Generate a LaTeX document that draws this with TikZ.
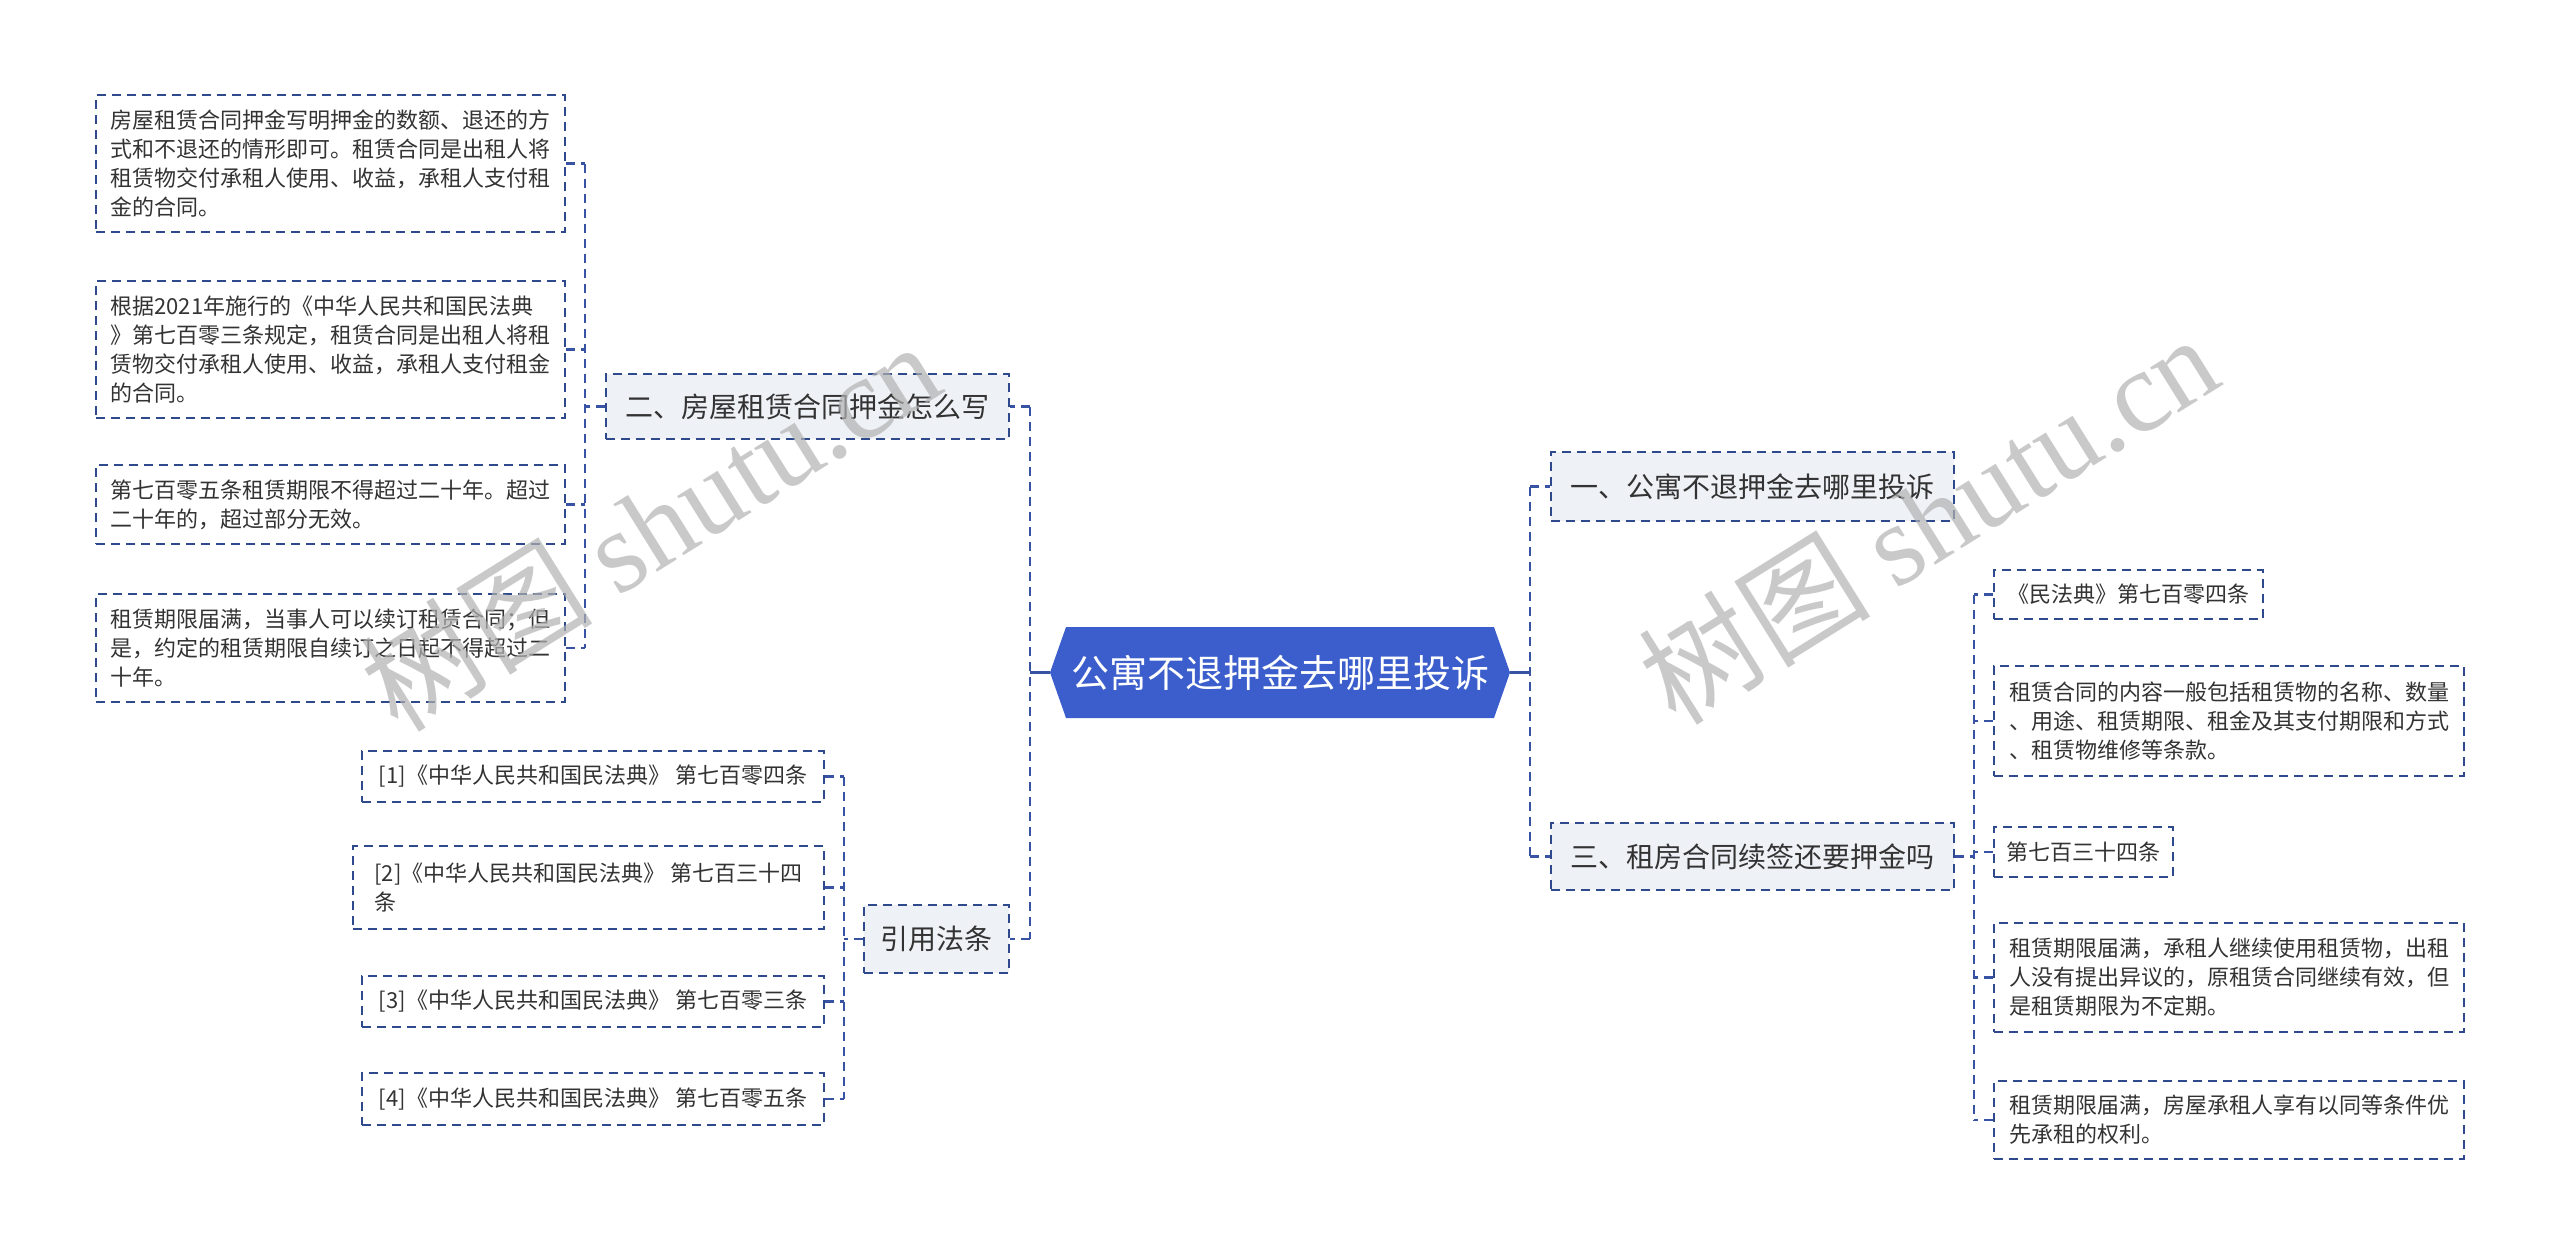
\documentclass[tikz,border=0pt]{standalone}
\usepackage{fontspec}
\setmainfont{Noto Sans CJK SC}
\newfontfamily\wmserif{Liberation Serif}
\usetikzlibrary{calc}
\definecolor{boxc}{HTML}{2F4A8C}
\definecolor{connc}{HTML}{3953A4}
\definecolor{lvlfill}{HTML}{EEF1F6}
\definecolor{hexc}{HTML}{3B5ECC}
\definecolor{txtc}{HTML}{333333}
\begin{document}
\begin{tikzpicture}[x=1pt,y=-1pt,
 leaf/.style={draw=boxc, line width=2pt, dash pattern=on 9pt off 6pt, fill=white, inner sep=0pt, align=left, font=\fontsize{22}{29}\selectfont, text=txtc},
 lvl/.style={draw=boxc, line width=2pt, dash pattern=on 9pt off 6pt, fill=lvlfill, inner sep=0pt, font=\fontsize{28}{34}\selectfont, text=txtc},
 conn/.style={draw=connc, line width=2.5pt, dash pattern=on 9pt off 6pt},
 stub/.style={draw=connc, line width=2.5pt},
 wm/.style={text=black!30, opacity=0.7, font=\fontsize{116}{120}\selectfont}
]
\useasboundingbox (0,0) rectangle (2560,1255);
% center
\fill[hexc] (1050,672.5) -- (1066,627) -- (1494,627) -- (1510,672.5) -- (1494,718) -- (1066,718) -- cycle;
\node[minimum width=460pt, minimum height=91pt, inner sep=0pt, text=white, font=\fontsize{38}{46}\selectfont] (c) at (1280,672.5) {公寓不退押金去哪里投诉};
% level 1
\node[lvl, minimum width=403pt, minimum height=65pt] (b2) at (807.5,406.5) {二、房屋租赁合同押金怎么写};
\node[lvl, minimum width=145pt, minimum height=68pt] (by) at (936.5,939) {引用法条};
\node[lvl, minimum width=403pt, minimum height=69pt] (b1) at (1752.5,486.5) {一、公寓不退押金去哪里投诉};
\node[lvl, minimum width=403pt, minimum height=67pt] (b3) at (1752.5,856.5) {三、租房合同续签还要押金吗};
% left leaves
\node[leaf, minimum width=469pt, minimum height=137pt] (l1) at (330.5,163.5) {房屋租赁合同押金写明押金的数额、退还的方\\式和不退还的情形即可。租赁合同是出租人将\\租赁物交付承租人使用、收益，承租人支付租\\金的合同。};
\node[leaf, minimum width=469pt, minimum height=137pt] (l2) at (330.5,349.5) {根据2021年施行的《中华人民共和国民法典\\》第七百零三条规定，租赁合同是出租人将租\\赁物交付承租人使用、收益，承租人支付租金\\的合同。};
\node[leaf, minimum width=469pt, minimum height=79pt] (l3) at (330.5,504.5) {第七百零五条租赁期限不得超过二十年。超过\\二十年的，超过部分无效。};
\node[leaf, minimum width=469pt, minimum height=108pt] (l4) at (330.5,648) {租赁期限届满，当事人可以续订租赁合同；但\\是，约定的租赁期限自续订之日起不得超过二\\十年。};
% citations
\node[leaf, minimum width=462pt, minimum height=51pt] (k1) at (593,776.5) {[1]《中华人民共和国民法典》 第七百零四条};
\node[leaf, minimum width=471pt, minimum height=83pt] (k2) at (588.5,887.5) {[2]《中华人民共和国民法典》 第七百三十四\\条};
\node[leaf, minimum width=462pt, minimum height=51pt] (k3) at (593,1001.5) {[3]《中华人民共和国民法典》 第七百零三条};
\node[leaf, minimum width=462pt, minimum height=52pt] (k4) at (593,1099) {[4]《中华人民共和国民法典》 第七百零五条};
% right leaves
\node[leaf, minimum width=269pt, minimum height=49pt] (r1) at (2128.5,594.5) {《民法典》第七百零四条};
\node[leaf, minimum width=470pt, minimum height=110pt] (r2) at (2229,721) {租赁合同的内容一般包括租赁物的名称、数量\\、用途、租赁期限、租金及其支付期限和方式\\、租赁物维修等条款。};
\node[leaf, minimum width=179pt, minimum height=50pt] (r3) at (2083.5,852) {第七百三十四条};
\node[leaf, minimum width=470pt, minimum height=109pt] (r4) at (2229,977.5) {租赁期限届满，承租人继续使用租赁物，出租\\人没有提出异议的，原租赁合同继续有效，但\\是租赁期限为不定期。};
\node[leaf, minimum width=470pt, minimum height=78pt] (r5) at (2229,1120) {租赁期限届满，房屋承租人享有以同等条件优\\先承租的权利。};
% bus coordinates
\coordinate (jc) at (1030,0);
\coordinate (jr) at (1530,0);
\coordinate (jl) at (585,0);
\coordinate (jk) at (844,0);
\coordinate (jq) at (1974,0);
% center connectors
\draw[stub] (c.west) -- (c.west -| jc);
\draw[conn] (b2.east -| jc) -- (by.east -| jc);
\draw[conn] (b2.east -| jc) -- (b2.east);
\draw[conn] (by.east -| jc) -- (by.east);
\draw[stub] (c.east) -- (c.east -| jr);
\draw[conn] (b1.west -| jr) -- (b3.west -| jr);
\draw[conn] (b1.west -| jr) -- (b1.west);
\draw[conn] (b3.west -| jr) -- (b3.west);
% left leaves
\draw[conn] (l1.east -| jl) -- (l4.east -| jl);
\draw[conn] (b2.west) -- (b2.west -| jl);
\foreach \n in {l1,l2,l3,l4} \draw[conn] (\n.east) -- (\n.east -| jl);
% citations
\draw[conn] (k1.east -| jk) -- (k4.east -| jk);
\draw[conn] (by.west) -- (by.west -| jk);
\foreach \n in {k1,k2,k3,k4} \draw[conn] (\n.east) -- (\n.east -| jk);
% right leaves
\draw[conn] (r1.west -| jq) -- (r5.west -| jq);
\draw[conn] (b3.east) -- (b3.east -| jq);
\foreach \n in {r1,r2,r3,r4,r5} \draw[conn] (\n.west) -- (\n.west -| jq);
% watermarks
\node[wm, rotate=32] (wm1) at (650,525) {树图 {\wmserif shutu.cn}};
\node[wm, rotate=32] (wm2) at (1928,518) {树图 {\wmserif shutu.cn}};
\end{tikzpicture}
\end{document}
